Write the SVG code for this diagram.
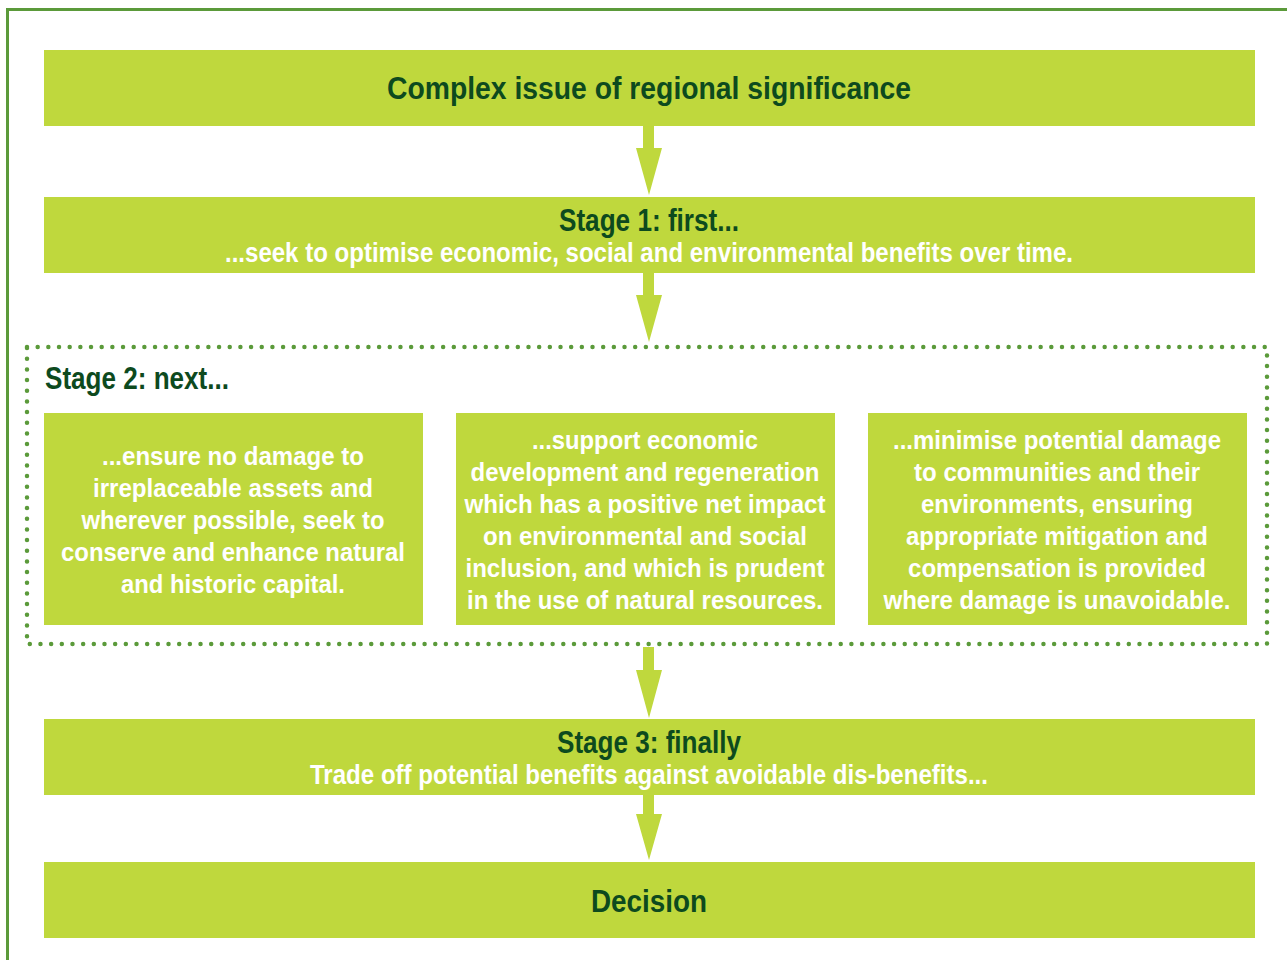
<svg xmlns="http://www.w3.org/2000/svg" width="1287" height="960" viewBox="0 0 1287 960">
  <style>
    .box { fill: #bfd83d; }
    .arrow { fill: #bfd83d; }
    .frame { fill: none; stroke: #5b9a3a; stroke-width: 3; }
    .dots { fill: none; stroke: #5b9a3a; stroke-width: 4.5; stroke-linecap: round; stroke-dasharray: 0 10.67; }
    text { font-family: "Liberation Sans Narrow", "Liberation Sans", Arial, sans-serif; font-weight: bold; text-anchor: middle; }
    .head { fill: #0d4a1e; font-size: 32px; }
    .sub { fill: #ffffff; font-size: 27px; }
    .body { fill: #ffffff; font-size: 26px; }
    .stagelabel { fill: #0d4a1e; font-size: 32px; text-anchor: start; }
  </style>

  <rect width="1287" height="960" fill="#ffffff"/>

  <!-- outer frame, open to the right and bottom -->
  <rect class="frame" x="7.5" y="9.5" width="1300" height="1000"/>

  <!-- connectors -->
  <g id="connectors">
    <polygon class="arrow" points="643,125 654,125 654,148 662,148 649,195 636,148 643,148"/>
    <polygon class="arrow" points="643,272 654,272 654,295 662,295 649,342 636,295 643,295"/>
    <polygon class="arrow" points="643,647 654,647 654,670 662,670 649,718 636,670 643,670"/>
    <polygon class="arrow" points="643,794 654,794 654,814 662,814 649,860 636,814 643,814"/>
  </g>

  <g id="issue">
    <rect class="box" x="44" y="50" width="1211" height="76"/>
    <text class="head" x="649" y="99" textLength="524" lengthAdjust="spacingAndGlyphs">Complex issue of regional significance</text>
  </g>

  <g id="stage1">
    <rect class="box" x="44" y="197" width="1211" height="76"/>
    <text class="head" x="649" y="231" textLength="180" lengthAdjust="spacingAndGlyphs">Stage 1: first...</text>
    <text class="sub" x="649" y="262" textLength="848" lengthAdjust="spacingAndGlyphs">...seek to optimise economic, social and environmental benefits over time.</text>
  </g>

  <g id="stage2">
    <path class="dots" d="M27,347 H1267 V644 H27 Z"/>
    <text class="stagelabel" x="45" y="389" textLength="184" lengthAdjust="spacingAndGlyphs">Stage 2: next...</text>
  </g>

  <g id="stage2-assets">
    <rect class="box" x="44" y="413" width="379" height="212"/>
    <text class="body" x="233" y="465" textLength="262" lengthAdjust="spacingAndGlyphs">...ensure no damage to</text>
    <text class="body" x="233" y="497" textLength="280" lengthAdjust="spacingAndGlyphs">irreplaceable assets and</text>
    <text class="body" x="233" y="529" textLength="303" lengthAdjust="spacingAndGlyphs">wherever possible, seek to</text>
    <text class="body" x="233" y="561" textLength="344" lengthAdjust="spacingAndGlyphs">conserve and enhance natural</text>
    <text class="body" x="233" y="593" textLength="224" lengthAdjust="spacingAndGlyphs">and historic capital.</text>
  </g>

  <g id="stage2-development">
    <rect class="box" x="456" y="413" width="379" height="212"/>
    <text class="body" x="645" y="449" textLength="226" lengthAdjust="spacingAndGlyphs">...support economic</text>
    <text class="body" x="645" y="481" textLength="349" lengthAdjust="spacingAndGlyphs">development and regeneration</text>
    <text class="body" x="645" y="513" textLength="361" lengthAdjust="spacingAndGlyphs">which has a positive net impact</text>
    <text class="body" x="645" y="545" textLength="324" lengthAdjust="spacingAndGlyphs">on environmental and social</text>
    <text class="body" x="645" y="577" textLength="359" lengthAdjust="spacingAndGlyphs">inclusion, and which is prudent</text>
    <text class="body" x="645" y="609" textLength="356" lengthAdjust="spacingAndGlyphs">in the use of natural resources.</text>
  </g>

  <g id="stage2-mitigation">
    <rect class="box" x="868" y="413" width="379" height="212"/>
    <text class="body" x="1057" y="449" textLength="328" lengthAdjust="spacingAndGlyphs">...minimise potential damage</text>
    <text class="body" x="1057" y="481" textLength="286" lengthAdjust="spacingAndGlyphs">to communities and their</text>
    <text class="body" x="1057" y="513" textLength="272" lengthAdjust="spacingAndGlyphs">environments, ensuring</text>
    <text class="body" x="1057" y="545" textLength="302" lengthAdjust="spacingAndGlyphs">appropriate mitigation and</text>
    <text class="body" x="1057" y="577" textLength="298" lengthAdjust="spacingAndGlyphs">compensation is provided</text>
    <text class="body" x="1057" y="609" textLength="347" lengthAdjust="spacingAndGlyphs">where damage is unavoidable.</text>
  </g>

  <g id="stage3">
    <rect class="box" x="44" y="719" width="1211" height="76"/>
    <text class="head" x="649" y="753" textLength="184" lengthAdjust="spacingAndGlyphs">Stage 3: finally</text>
    <text class="sub" x="649" y="784" textLength="678" lengthAdjust="spacingAndGlyphs">Trade off potential benefits against avoidable dis-benefits...</text>
  </g>

  <g id="decision">
    <rect class="box" x="44" y="862" width="1211" height="76"/>
    <text class="head" x="649" y="912" textLength="116" lengthAdjust="spacingAndGlyphs">Decision</text>
  </g>
</svg>
